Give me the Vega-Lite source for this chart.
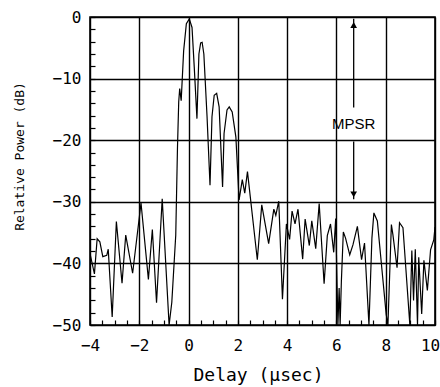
{
  "$schema": "https://vega.github.io/schema/vega-lite/v6.json",
  "width": 345,
  "height": 308,
  "autosize": "none",
  "padding": {"left": 90, "top": 17, "right": 5, "bottom": 62},
  "background": "white",
  "config": {
    "view": {"stroke": "black", "strokeWidth": 1.6},
    "axis": {
      "domain": false,
      "grid": true,
      "gridColor": "black",
      "gridWidth": 1.4,
      "tickColor": "black",
      "tickWidth": 1.2,
      "tickSize": -5,
      "tickCount": 100,
      "format": "d",
      "labelColor": "black",
      "labelFont": "DejaVu Sans Mono",
      "labelFontSize": 16,
      "labelOverlap": false,
      "labelFlush": false,
      "titleColor": "black",
      "titleFont": "DejaVu Sans Mono",
      "titleFontWeight": "normal"
    }
  },
  "datasets": {
    "trace": [
      {"delay": -4.0, "power": -38.4}, {"delay": -3.82, "power": -41.7}, {"delay": -3.71, "power": -36.0},
      {"delay": -3.6, "power": -36.5}, {"delay": -3.48, "power": -38.9}, {"delay": -3.32, "power": -38.7},
      {"delay": -3.26, "power": -37.7}, {"delay": -3.1, "power": -48.7}, {"delay": -2.93, "power": -33.2},
      {"delay": -2.7, "power": -43.2}, {"delay": -2.55, "power": -35.4}, {"delay": -2.27, "power": -41.6},
      {"delay": -1.93, "power": -30.2}, {"delay": -1.63, "power": -42.6}, {"delay": -1.47, "power": -34.5},
      {"delay": -1.3, "power": -46.4}, {"delay": -1.07, "power": -29.5}, {"delay": -0.79, "power": -50},
      {"delay": -0.68, "power": -46.3}, {"delay": -0.52, "power": -35.4}, {"delay": -0.45, "power": -21.2},
      {"delay": -0.4, "power": -13.8}, {"delay": -0.36, "power": -11.6}, {"delay": -0.3, "power": -13.6},
      {"delay": -0.2, "power": -5.5}, {"delay": -0.09, "power": -1.1}, {"delay": 0.03, "power": -0.3},
      {"delay": 0.14, "power": -1.7}, {"delay": 0.23, "power": -8.1}, {"delay": 0.34, "power": -16.5},
      {"delay": 0.42, "power": -6.0}, {"delay": 0.49, "power": -4.2}, {"delay": 0.55, "power": -4.1},
      {"delay": 0.62, "power": -6.0}, {"delay": 0.75, "power": -16.2}, {"delay": 0.87, "power": -27.3},
      {"delay": 0.95, "power": -16.2}, {"delay": 1.04, "power": -12.7}, {"delay": 1.14, "power": -12.4},
      {"delay": 1.24, "power": -14.6}, {"delay": 1.38, "power": -27.6}, {"delay": 1.44, "power": -18.9},
      {"delay": 1.56, "power": -15.1}, {"delay": 1.65, "power": -14.6}, {"delay": 1.77, "power": -15.4},
      {"delay": 1.92, "power": -19.5}, {"delay": 2.05, "power": -29.7}, {"delay": 2.18, "power": -26.4},
      {"delay": 2.28, "power": -28.6}, {"delay": 2.39, "power": -25.1}, {"delay": 2.79, "power": -39.4},
      {"delay": 2.97, "power": -30.5}, {"delay": 3.25, "power": -36.8}, {"delay": 3.46, "power": -31.2},
      {"delay": 3.54, "power": -32.2}, {"delay": 3.66, "power": -29.9}, {"delay": 3.81, "power": -45.8},
      {"delay": 3.97, "power": -33.6}, {"delay": 4.1, "power": -36.1}, {"delay": 4.2, "power": -31.5},
      {"delay": 4.32, "power": -33.6}, {"delay": 4.44, "power": -31.2}, {"delay": 4.63, "power": -39.3},
      {"delay": 4.73, "power": -32.8}, {"delay": 4.9, "power": -37.1}, {"delay": 5.0, "power": -33.1},
      {"delay": 5.16, "power": -37.6}, {"delay": 5.3, "power": -30.3}, {"delay": 5.5, "power": -43.3},
      {"delay": 5.63, "power": -35.5}, {"delay": 5.76, "power": -33.6}, {"delay": 5.89, "power": -38.2},
      {"delay": 5.97, "power": -32.7}, {"delay": 6.06, "power": -50}, {"delay": 6.11, "power": -44},
      {"delay": 6.15, "power": -50}, {"delay": 6.2, "power": -43}, {"delay": 6.28, "power": -34.9},
      {"delay": 6.37, "power": -35.9}, {"delay": 6.54, "power": -38.6}, {"delay": 6.67, "power": -37.0},
      {"delay": 6.85, "power": -34.0}, {"delay": 7.02, "power": -39.4}, {"delay": 7.14, "power": -36.7},
      {"delay": 7.32, "power": -50}, {"delay": 7.44, "power": -35.9}, {"delay": 7.52, "power": -31.8},
      {"delay": 7.66, "power": -33.1}, {"delay": 8.02, "power": -48.3}, {"delay": 8.09, "power": -50},
      {"delay": 8.23, "power": -33.7}, {"delay": 8.29, "power": -35.3}, {"delay": 8.46, "power": -40.7},
      {"delay": 8.56, "power": -33.4}, {"delay": 8.7, "power": -34.2}, {"delay": 8.98, "power": -50},
      {"delay": 9.06, "power": -37.9}, {"delay": 9.13, "power": -46.0}, {"delay": 9.2, "power": -37.7},
      {"delay": 9.29, "power": -50}, {"delay": 9.34, "power": -39.0}, {"delay": 9.46, "power": -48.2},
      {"delay": 9.55, "power": -39.5}, {"delay": 9.69, "power": -44.4}, {"delay": 9.82, "power": -37.8},
      {"delay": 9.95, "power": -36.2}, {"delay": 10.0, "power": -34.1}
    ],
    "arrow": [
      {"delay": 6.7, "power": -0.3, "power2": -14.7},
      {"delay": 6.7, "power": -20.2, "power2": -29.6}
    ],
    "heads": [
      {"delay": 6.7, "power": -1.3, "shape": "triangle-up"},
      {"delay": 6.7, "power": -28.8, "shape": "triangle-down"}
    ],
    "label": [
      {"delay": 6.7, "power": -17.3, "text": "MPSR"}
    ]
  },
  "layer": [
    {
      "data": {"name": "trace"},
      "mark": {"type": "line", "color": "black", "strokeWidth": 1.2, "clip": true},
      "encoding": {
        "x": {
          "field": "delay", "type": "quantitative",
          "scale": {"domain": [-4, 10], "nice": false, "zero": false},
          "axis": {
            "title": "Delay (μsec)",
            "values": [-4, -3.5, -3, -2.5, -2, -1.5, -1, -0.5, 0, 0.5, 1, 1.5, 2, 2.5, 3, 3.5, 4, 4.5, 5, 5.5, 6, 6.5, 7, 7.5, 8, 8.5, 9, 9.5, 10],
            "labelExpr": "datum.value % 2 === 0 ? datum.label : ''",
            "gridOpacity": {"condition": {"test": "datum.value % 2 === 0", "value": 1}, "value": 0},
            "labelOffset": {"condition": {"test": "datum.value === 10", "value": -5}, "value": 0},
            "labelPadding": 17,
            "titleFontSize": 18,
            "titleX": 168,
            "titleY": 55,
            "titleAlign": "center",
            "titleBaseline": "alphabetic"
          }
        },
        "y": {
          "field": "power", "type": "quantitative",
          "scale": {"domain": [-50, 0], "nice": false, "zero": false},
          "axis": {
            "title": "Relative Power (dB)",
            "values": [-50, -48, -46, -44, -42, -40, -38, -36, -34, -32, -30, -28, -26, -24, -22, -20, -18, -16, -14, -12, -10, -8, -6, -4, -2, 0],
            "labelExpr": "datum.value % 10 === 0 ? datum.label : ''",
            "gridOpacity": {"condition": {"test": "datum.value % 10 === 0", "value": 1}, "value": 0},
            "labelPadding": 14,
            "titleFontSize": 13,
            "titleX": -67,
            "titleY": 139,
            "titleAngle": -90,
            "titleAlign": "center",
            "titleBaseline": "alphabetic"
          }
        }
      }
    },
    {
      "data": {"name": "arrow"},
      "mark": {"type": "rule", "color": "black", "strokeWidth": 1.3},
      "encoding": {
        "x": {"field": "delay", "type": "quantitative"},
        "y": {"field": "power", "type": "quantitative"},
        "y2": {"field": "power2"}
      }
    },
    {
      "data": {"name": "heads"},
      "mark": {"type": "point", "filled": true, "color": "black", "opacity": 1, "size": 45},
      "encoding": {
        "x": {"field": "delay", "type": "quantitative"},
        "y": {"field": "power", "type": "quantitative"},
        "shape": {"field": "shape", "type": "nominal", "scale": null}
      }
    },
    {
      "data": {"name": "label"},
      "mark": {"type": "text", "font": "Liberation Sans", "fontSize": 15, "color": "black", "align": "center", "baseline": "middle"},
      "encoding": {
        "x": {"field": "delay", "type": "quantitative"},
        "y": {"field": "power", "type": "quantitative"},
        "text": {"field": "text", "type": "nominal"}
      }
    }
  ]
}
